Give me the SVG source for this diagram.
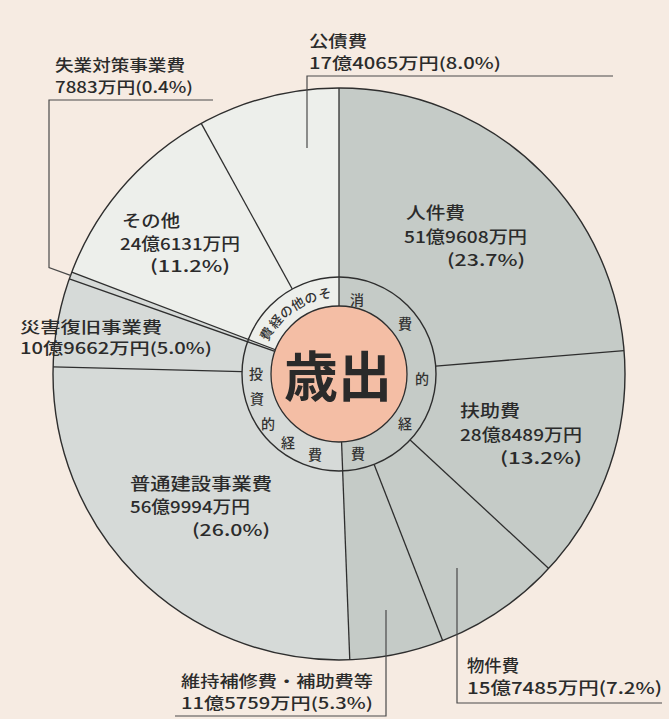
<svg xmlns="http://www.w3.org/2000/svg" width="669" height="719" viewBox="0 0 669 719">
<defs>
<style>
.bg{fill:#f6ebe2}
.dark{fill:#c5cbc7}
.mid{fill:#d6dad8}
.light{fill:#edefeb}
.edge{fill:none;stroke:#2e2e2e;stroke-width:1.4}
.div{stroke:#2e2e2e;stroke-width:1.3;fill:none}
.lead{stroke:#4a4a4a;stroke-width:1.2;fill:none}
.lbl{font-family:"Noto Sans CJK JP","Noto Sans",sans-serif;font-size:16.5px;font-weight:500;fill:#2b2b2b}
.sm{font-size:15.5px}
.ring{font-family:"Noto Sans CJK JP","Noto Sans",sans-serif;font-size:14px;font-weight:500;fill:#333;text-anchor:middle;dominant-baseline:central}
.ring2{font-family:"Noto Sans CJK JP","Noto Sans",sans-serif;font-size:13px;font-weight:500;fill:#333;text-anchor:middle;dominant-baseline:central}
.title{font-family:"Noto Sans CJK JP","Noto Sans",sans-serif;font-size:54px;font-weight:bold;fill:#2a2a2a;text-anchor:middle;dominant-baseline:central}
</style>
</defs>
<rect class="bg" x="0" y="0" width="669" height="719"/>

<g id="pie">
<path class="dark" d="M339,374 L339,88 A286,286 0 0 1 349.78,659.80 Z"/>
<path class="mid" d="M339,374 L349.78,659.80 A286,286 0 0 1 71.78,272.07 Z"/>
<path class="light" d="M339,374 L71.78,272.07 A286,286 0 0 1 339,88 Z"/>
<circle class="edge" cx="339" cy="374" r="286"/>
</g>

<g id="connectors">
<line class="div" x1="339" y1="306" x2="339" y2="88"/>
<line class="div" x1="435.68" y1="366.09" x2="624.05" y2="350.67"/>
<line class="div" x1="410.13" y1="439.95" x2="548.73" y2="568.44"/>
<line class="div" x1="374.14" y1="464.41" x2="442.61" y2="640.57"/>
<line class="div" x1="341.56" y1="441.95" x2="349.78" y2="659.80"/>
<line class="div" x1="242.03" y1="371.56" x2="53.09" y2="366.81"/>
<line class="div" x1="274.88" y1="351.37" x2="69.31" y2="278.81"/>
<line class="div" x1="275.47" y1="349.76" x2="71.78" y2="272.07"/>
<line class="div" x1="292.27" y1="289.0" x2="201.22" y2="123.38"/>
<polyline class="lead" points="307,148 307,76 613,76"/>
<polyline class="lead" points="70.5,275.4 49,267.5 49,100 213,100"/>
<polyline class="lead" points="386,610 386,716 175,716"/>
<polyline class="lead" points="457,568 457,703 662,703"/>
</g>

<g id="ring">
<circle class="edge" cx="339" cy="374" r="97"/>
<text class="ring" x="357" y="299">消</text>
<text class="ring" x="405" y="323">費</text>
<text class="ring" x="422" y="378">的</text>
<text class="ring" x="405" y="423">経</text>
<text class="ring" x="358" y="453">費</text>
<text class="ring" x="256" y="373">投</text>
<text class="ring" x="257" y="398">資</text>
<text class="ring" x="268" y="423">的</text>
<text class="ring" x="288" y="442">経</text>
<text class="ring" x="315" y="454">費</text>
<text class="ring2" transform="translate(324.6,293) rotate(-10)">そ</text>
<text class="ring2" transform="translate(310.6,297) rotate(-20)">の</text>
<text class="ring2" transform="translate(297.5,303) rotate(-30)">他</text>
<text class="ring2" transform="translate(285.6,311) rotate(-40)">の</text>
<text class="ring2" transform="translate(275.4,321) rotate(-50)">経</text>
<text class="ring2" transform="translate(266,333.5) rotate(-61)">費</text>
</g>

<g id="center">
<circle cx="339" cy="374" r="68" fill="#f4bea5" stroke="#2e2e2e" stroke-width="1.3"/>
<text class="title" x="338" y="373">歳出</text>
</g>

<g id="label-kousai">
<text class="lbl sm" x="309" y="47" textLength="58" lengthAdjust="spacingAndGlyphs">公債費</text>
<text class="lbl sm" x="309" y="69" textLength="192" lengthAdjust="spacingAndGlyphs">17億4065万円(8.0%)</text>
</g>
<g id="label-shitsugyo">
<text class="lbl sm" x="55" y="71" textLength="130" lengthAdjust="spacingAndGlyphs">失業対策事業費</text>
<text class="lbl sm" x="55" y="93" textLength="138" lengthAdjust="spacingAndGlyphs">7883万円(0.4%)</text>
</g>
<g id="label-jinken">
<text class="lbl" x="406" y="219" textLength="59" lengthAdjust="spacingAndGlyphs">人件費</text>
<text class="lbl" x="404" y="243" textLength="123" lengthAdjust="spacingAndGlyphs">51億9608万円</text>
<text class="lbl" x="447" y="266" textLength="78" lengthAdjust="spacingAndGlyphs">(23.7%)</text>
</g>
<g id="label-fujo">
<text class="lbl" x="460" y="417" textLength="60" lengthAdjust="spacingAndGlyphs">扶助費</text>
<text class="lbl" x="460" y="441" textLength="122" lengthAdjust="spacingAndGlyphs">28億8489万円</text>
<text class="lbl" x="500" y="464" textLength="82" lengthAdjust="spacingAndGlyphs">(13.2%)</text>
</g>
<g id="label-bukken">
<text class="lbl" x="467" y="672" textLength="52" lengthAdjust="spacingAndGlyphs">物件費</text>
<text class="lbl" x="467" y="694" textLength="195" lengthAdjust="spacingAndGlyphs">15億7485万円(7.2%)</text>
</g>
<g id="label-iji">
<text class="lbl sm" x="181" y="687" textLength="192" lengthAdjust="spacingAndGlyphs">維持補修費・補助費等</text>
<text class="lbl sm" x="181" y="709" textLength="192" lengthAdjust="spacingAndGlyphs">11億5759万円(5.3%)</text>
</g>
<g id="label-futsu">
<text class="lbl" x="130" y="490" textLength="142" lengthAdjust="spacingAndGlyphs">普通建設事業費</text>
<text class="lbl" x="130" y="513" textLength="120" lengthAdjust="spacingAndGlyphs">56億9994万円</text>
<text class="lbl" x="192" y="536" textLength="78" lengthAdjust="spacingAndGlyphs">(26.0%)</text>
</g>
<g id="label-saigai">
<text class="lbl sm" x="20" y="333" textLength="142" lengthAdjust="spacingAndGlyphs">災害復旧事業費</text>
<text class="lbl sm" x="20" y="354" textLength="192" lengthAdjust="spacingAndGlyphs">10億9662万円(5.0%)</text>
</g>
<g id="label-sonota">
<text class="lbl" x="122" y="227" textLength="58" lengthAdjust="spacingAndGlyphs">その他</text>
<text class="lbl" x="120" y="250" textLength="120" lengthAdjust="spacingAndGlyphs">24億6131万円</text>
<text class="lbl" x="150" y="272" textLength="80" lengthAdjust="spacingAndGlyphs">(11.2%)</text>
</g>
</svg>
